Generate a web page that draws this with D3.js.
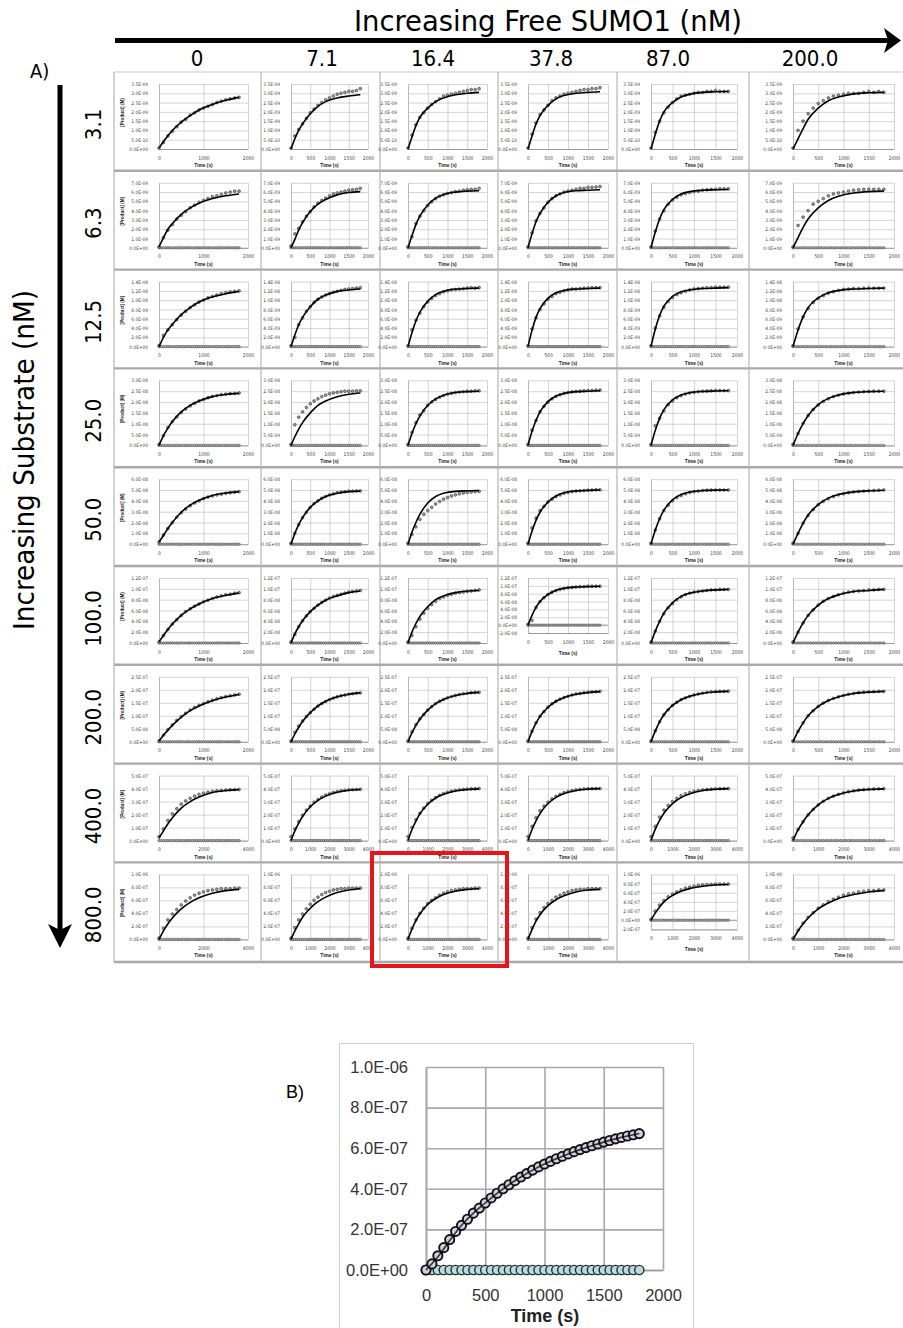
<!DOCTYPE html>
<html><head><meta charset="utf-8">
<script src="https://cdn.jsdelivr.net/npm/d3@7"></script>
<style>body{margin:0;background:#fff}svg{display:block}</style>
</head><body><svg id="c" width="903" height="1328"></svg>
<script>
// ---------------- DATA ----------------
const colLabels = ["0","7.1","16.4","37.8","87.0","200.0"];          // Free SUMO1 (nM)
const rowLabels = ["3.1","6.3","12.5","25.0","50.0","100.0","200.0","400.0","800.0"]; // Substrate (nM)
const rowUnits  = [1e-9,1e-9,1e-8,1e-8,1e-8,1e-7,1e-7,1e-7,1e-6];
const rowYMax   = [3.5,7,1.4,3,6,1.2,2.5,5,1];
const rowYStep  = [0.5,1,0.2,0.5,1,0.2,0.5,1,0.2];
const rowXMax   = [2000,2000,2000,2000,2000,2000,2000,4000,4000];
const rowHasControl = [false,true,true,true,true,true,true,true,true];
const panelYMin = [
 [0,0,0,0,0,0],[0,0,0,0,0,0],[0,0,0,0,0,0],[0,0,0,0,0,0],[0,0,0,0,0,0],
 [0,0,0,-0.2,0,0],[0,0,0,0,0,0],[0,0,0,0,0,0],[0,0,0,0,-0.2,0]
];
const dataTimesShort = [0,100,200,300,400,500,600,700,800,900,1000,1100,1200,1300,1400,1500,1600,1700,1800];
const dataTimesLong  = [0,200,400,600,800,1000,1200,1400,1600,1800,2000,2200,2400,2600,2800,3000,3200,3400,3600];
const fitTimesShort  = [0,100,200,300,500,700,900,1200,1500,1800];
const fitTimesLong   = [0,200,400,600,1000,1400,1800,2400,3000,3600];
const controlTimesShort = [0,50,100,150,200,250,300,350,400,450,500,550,600,650,700,750,800,850,900,950,1000,1050,1100,1150,1200,1250,1300,1350,1400,1450,1500,1550,1600,1650,1700,1750,1800];
const controlTimesLong  = [0,100,200,300,400,500,600,700,800,900,1000,1100,1200,1300,1400,1500,1600,1700,1800,1900,2000,2100,2200,2300,2400,2500,2600,2700,2800,2900,3000,3100,3200,3300,3400,3500,3600];
const controlValues = [0,0,0,0,0,0,0,0,0,0,0,0,0,0,0,0,0,0,0,0,0,0,0,0,0,0,0,0,0,0,0,0,0,0,0,0,0];

const pointsRow1 = [
 [0.05,0.35,0.7,0.95,1.2,1.45,1.6,1.82,1.95,2.1,2.2,2.3,2.4,2.5,2.58,2.65,2.7,2.75,2.78],
 [0.05,0.7,1.05,1.35,1.65,1.95,2.15,2.35,2.5,2.65,2.75,2.85,2.95,3.0,3.05,3.1,3.1,3.15,3.25],
 [0.05,0.75,1.3,1.7,1.95,2.2,2.4,2.55,2.7,2.85,2.9,2.95,3.0,3.05,3.1,3.15,3.2,3.2,3.25],
 [0.05,0.8,1.4,1.85,2.1,2.35,2.6,2.75,2.85,2.95,3.0,3.05,3.1,3.15,3.2,3.2,3.25,3.25,3.3],
 [0.05,0.9,1.5,1.95,2.25,2.5,2.7,2.85,2.9,2.95,3.0,3.05,3.05,3.1,3.1,3.15,3.1,3.1,3.1],
 [0.05,1.0,1.5,1.9,2.2,2.45,2.6,2.75,2.85,2.9,2.95,3.0,3.0,3.0,3.05,3.1,3.05,3.1,3.05]
];
const fitRow1 = [
 [0.05,0.4,0.72,1.0,1.45,1.8,2.1,2.4,2.62,2.78],
 [0,0.55,1.0,1.35,1.9,2.3,2.55,2.75,2.85,2.92],
 [0,0.65,1.25,1.7,2.2,2.55,2.75,2.92,3.0,3.05],
 [0,0.7,1.35,1.8,2.35,2.7,2.88,3.0,3.05,3.08],
 [0,0.8,1.5,2.0,2.5,2.8,2.95,3.05,3.08,3.1],
 [0,0.55,1.1,1.6,2.2,2.6,2.8,2.97,3.03,3.05]
];
const pointsRow2 = [
 [0.1,1.1,1.9,2.5,3.1,3.5,3.9,4.3,4.6,4.9,5.1,5.3,5.5,5.6,5.75,5.9,6.0,6.1,6.1],
 [0.2,1.5,2.1,2.8,3.4,3.9,4.4,4.8,5.1,5.35,5.6,5.8,5.9,6.0,6.1,6.2,6.25,6.3,6.4],
 [0.1,1.2,2.6,3.4,4.0,4.55,4.95,5.3,5.55,5.7,5.85,5.95,6.05,6.1,6.2,6.25,6.3,6.3,6.4],
 [0.1,1.6,2.9,3.7,4.3,4.9,5.3,5.6,5.8,6.0,6.1,6.2,6.3,6.4,6.4,6.5,6.5,6.55,6.6],
 [0.1,1.8,3.1,4.0,4.7,5.15,5.45,5.7,5.85,5.95,6.05,6.1,6.2,6.25,6.3,6.3,6.35,6.35,6.35],
 [0.1,2.4,3.3,4.0,4.7,5.0,5.3,5.6,5.8,5.9,6.0,6.1,6.2,6.25,6.3,6.3,6.3,6.3,6.3]
];
const fitRow2 = [
 [0.1,1.1,2.0,2.6,3.6,4.3,4.8,5.3,5.6,5.8],
 [0,0.9,1.9,2.7,3.9,4.7,5.2,5.7,5.95,6.05],
 [0,1.3,2.5,3.4,4.6,5.35,5.75,6.0,6.1,6.15],
 [0,1.5,2.8,3.7,4.9,5.6,5.95,6.15,6.2,6.25],
 [0,1.7,3.1,4.1,5.2,5.8,6.05,6.2,6.25,6.28],
 [0,1.1,2.2,3.1,4.3,5.1,5.55,5.9,6.05,6.1]
];
const pointsRow3 = [
 [0.02,0.24,0.36,0.47,0.58,0.68,0.76,0.84,0.9,0.96,1.0,1.05,1.08,1.11,1.14,1.16,1.18,1.19,1.2],
 [0.02,0.2,0.47,0.62,0.76,0.86,0.95,1.02,1.07,1.11,1.14,1.17,1.19,1.21,1.23,1.24,1.25,1.26,1.27],
 [0.02,0.36,0.57,0.72,0.86,0.96,1.04,1.1,1.14,1.18,1.2,1.22,1.23,1.24,1.25,1.26,1.27,1.26,1.27],
 [0.02,0.38,0.62,0.8,0.92,1.02,1.08,1.14,1.17,1.2,1.22,1.24,1.24,1.25,1.26,1.26,1.27,1.27,1.27],
 [0.02,0.4,0.66,0.85,0.97,1.06,1.12,1.16,1.19,1.22,1.24,1.25,1.26,1.27,1.27,1.28,1.28,1.28,1.28],
 [0.02,0.38,0.64,0.82,0.95,1.04,1.1,1.15,1.18,1.21,1.23,1.24,1.25,1.25,1.26,1.26,1.26,1.26,1.26]
];
const fitRow3 = [
 [0,0.2,0.36,0.48,0.69,0.84,0.96,1.07,1.14,1.19],
 [0,0.25,0.47,0.63,0.86,1.02,1.11,1.19,1.22,1.24],
 [0,0.3,0.55,0.74,0.98,1.12,1.19,1.24,1.25,1.26],
 [0,0.35,0.63,0.82,1.04,1.16,1.21,1.24,1.25,1.26],
 [0,0.38,0.67,0.87,1.08,1.18,1.22,1.25,1.26,1.27],
 [0,0.36,0.64,0.84,1.05,1.16,1.21,1.24,1.25,1.26]
];
const pointsRow4 = [
 [0.05,0.45,0.82,1.1,1.32,1.52,1.68,1.82,1.94,2.05,2.12,2.2,2.26,2.3,2.34,2.37,2.39,2.4,2.42],
 [0.05,0.95,1.3,1.55,1.75,1.92,2.05,2.15,2.25,2.32,2.38,2.42,2.45,2.48,2.5,2.5,2.5,2.52,2.52],
 [0.05,0.6,1.05,1.4,1.6,1.85,2.0,2.12,2.22,2.3,2.36,2.4,2.44,2.46,2.48,2.5,2.5,2.52,2.52],
 [0.05,0.7,1.15,1.55,1.8,2.0,2.15,2.26,2.34,2.4,2.44,2.47,2.49,2.5,2.52,2.53,2.53,2.55,2.55],
 [0.05,0.9,1.25,1.6,1.88,2.05,2.2,2.3,2.37,2.42,2.45,2.48,2.5,2.51,2.52,2.53,2.53,2.53,2.53],
 [0.05,0.55,1.02,1.38,1.65,1.87,2.03,2.15,2.25,2.32,2.37,2.41,2.44,2.46,2.48,2.49,2.5,2.5,2.5]
];
const fitRow4 = [
 [0,0.45,0.8,1.1,1.55,1.85,2.05,2.25,2.35,2.4],
 [0,0.4,0.75,1.05,1.5,1.85,2.05,2.25,2.36,2.42],
 [0,0.55,1.0,1.35,1.85,2.15,2.32,2.44,2.48,2.5],
 [0,0.65,1.15,1.55,2.02,2.28,2.4,2.48,2.5,2.52],
 [0,0.7,1.25,1.65,2.1,2.33,2.43,2.49,2.51,2.52],
 [0,0.55,1.0,1.38,1.88,2.17,2.33,2.44,2.48,2.5]
];
const pointsRow5 = [
 [0.2,0.85,1.45,2.0,2.5,2.9,3.25,3.55,3.8,4.0,4.2,4.35,4.45,4.55,4.62,4.7,4.75,4.8,4.85],
 [0.1,1.0,1.8,2.45,2.95,3.4,3.75,4.0,4.25,4.4,4.55,4.65,4.75,4.8,4.85,4.9,4.9,4.92,4.92],
 [0.1,0.9,1.6,2.3,2.75,3.1,3.4,3.7,3.95,4.15,4.3,4.45,4.55,4.65,4.72,4.78,4.82,4.85,4.88],
 [0.1,1.5,2.4,3.1,3.5,3.9,4.15,4.4,4.55,4.7,4.78,4.85,4.9,4.93,4.95,4.98,5.0,5.02,5.02],
 [0.1,1.3,2.35,3.1,3.6,4.0,4.3,4.5,4.65,4.78,4.85,4.9,4.95,4.98,5.0,5.0,5.0,5.0,5.0],
 [0.1,1.0,1.95,2.65,3.2,3.65,3.95,4.2,4.4,4.55,4.65,4.75,4.82,4.87,4.9,4.93,4.96,4.98,5.0]
];
const fitRow5 = [
 [0.2,0.8,1.45,2.0,2.95,3.6,4.05,4.5,4.72,4.85],
 [0,1.0,1.8,2.45,3.4,4.0,4.4,4.7,4.85,4.9],
 [0,1.1,2.0,2.75,3.8,4.4,4.7,4.88,4.93,4.95],
 [0,1.2,2.2,2.95,3.9,4.45,4.75,4.92,4.97,5.0],
 [0,1.3,2.35,3.15,4.1,4.58,4.82,4.95,4.99,5.0],
 [0,1.0,1.95,2.7,3.65,4.25,4.58,4.82,4.93,4.98]
];
const pointsRow6 = [
 [0.02,0.14,0.25,0.35,0.43,0.51,0.58,0.63,0.68,0.72,0.76,0.79,0.82,0.85,0.87,0.89,0.9,0.92,0.93],
 [0.02,0.16,0.3,0.41,0.5,0.58,0.64,0.7,0.75,0.79,0.83,0.86,0.88,0.9,0.92,0.94,0.95,0.96,0.97],
 [0.02,0.14,0.3,0.44,0.55,0.64,0.71,0.77,0.82,0.85,0.88,0.9,0.92,0.93,0.94,0.95,0.96,0.97,0.98],
 [0.02,0.12,0.45,0.6,0.7,0.78,0.84,0.88,0.91,0.93,0.95,0.96,0.97,0.98,0.98,0.99,0.99,0.99,0.99],
 [0.02,0.22,0.4,0.54,0.65,0.73,0.8,0.85,0.89,0.92,0.94,0.95,0.96,0.97,0.98,0.98,0.99,0.99,0.99],
 [0.02,0.2,0.37,0.51,0.61,0.7,0.77,0.82,0.86,0.89,0.92,0.94,0.95,0.96,0.97,0.98,0.98,0.99,0.99]
];
const fitRow6 = [
 [0.02,0.14,0.25,0.35,0.51,0.63,0.72,0.82,0.88,0.92],
 [0,0.17,0.3,0.41,0.58,0.7,0.79,0.87,0.93,0.96],
 [0,0.2,0.36,0.49,0.67,0.8,0.87,0.93,0.96,0.97],
 [0,0.25,0.45,0.6,0.78,0.89,0.94,0.97,0.98,0.99],
 [0,0.22,0.4,0.55,0.74,0.86,0.92,0.96,0.98,0.99],
 [0,0.2,0.37,0.51,0.7,0.82,0.89,0.95,0.97,0.99]
];
const pointsRow7 = [
 [0.03,0.26,0.47,0.65,0.82,0.97,1.1,1.22,1.32,1.4,1.47,1.54,1.6,1.65,1.7,1.74,1.77,1.8,1.83],
 [0.03,0.36,0.6,0.8,0.97,1.12,1.25,1.37,1.47,1.55,1.62,1.68,1.73,1.77,1.8,1.83,1.85,1.87,1.88],
 [0.03,0.38,0.66,0.88,1.05,1.22,1.35,1.47,1.56,1.63,1.69,1.74,1.78,1.82,1.85,1.87,1.89,1.9,1.9],
 [0.03,0.4,0.73,0.98,1.16,1.33,1.46,1.56,1.64,1.7,1.75,1.8,1.84,1.86,1.89,1.91,1.92,1.93,1.94],
 [0.03,0.42,0.77,1.04,1.23,1.4,1.52,1.62,1.69,1.75,1.8,1.84,1.87,1.9,1.92,1.93,1.94,1.94,1.95],
 [0.03,0.4,0.73,1.0,1.19,1.36,1.49,1.59,1.67,1.73,1.78,1.83,1.86,1.89,1.91,1.92,1.93,1.94,1.94]
];
const fitRow7 = [
 [0.03,0.25,0.45,0.63,0.95,1.2,1.38,1.58,1.72,1.82],
 [0,0.3,0.56,0.78,1.12,1.38,1.56,1.73,1.83,1.88],
 [0,0.34,0.63,0.87,1.22,1.47,1.63,1.78,1.86,1.9],
 [0,0.4,0.72,0.98,1.33,1.56,1.7,1.83,1.89,1.93],
 [0,0.42,0.77,1.04,1.4,1.62,1.75,1.87,1.92,1.94],
 [0,0.4,0.73,1.0,1.36,1.59,1.73,1.86,1.91,1.94]
];
const pointsRow8 = [
 [0.3,0.9,1.55,2.05,2.45,2.8,3.05,3.25,3.42,3.55,3.65,3.72,3.78,3.83,3.86,3.89,3.91,3.92,3.93],
 [0.3,0.9,1.45,1.95,2.35,2.65,2.95,3.15,3.35,3.5,3.6,3.7,3.77,3.83,3.87,3.9,3.92,3.94,3.95],
 [0.3,1.0,1.6,2.1,2.5,2.85,3.1,3.3,3.48,3.62,3.72,3.8,3.86,3.9,3.93,3.96,3.98,3.99,4.0],
 [0.3,1.1,1.75,2.3,2.65,2.95,3.2,3.4,3.56,3.68,3.77,3.84,3.9,3.94,3.97,3.99,4.0,4.0,4.0],
 [0.3,1.1,1.8,2.35,2.7,3.0,3.25,3.45,3.6,3.7,3.78,3.85,3.9,3.93,3.96,3.98,3.99,4.0,4.0],
 [0.2,0.85,1.45,1.98,2.4,2.75,3.02,3.25,3.42,3.56,3.67,3.76,3.83,3.88,3.92,3.95,3.97,3.98,3.99]
];
const fitRow8 = [
 [0.2,0.75,1.3,1.75,2.5,3.0,3.35,3.7,3.85,3.92],
 [0,0.75,1.35,1.85,2.6,3.1,3.42,3.72,3.87,3.93],
 [0,0.85,1.5,2.05,2.8,3.28,3.56,3.82,3.93,3.98],
 [0,0.85,1.52,2.08,2.85,3.33,3.62,3.86,3.96,4.0],
 [0,0.88,1.55,2.1,2.85,3.32,3.6,3.85,3.95,4.0],
 [0,0.82,1.45,1.98,2.75,3.25,3.55,3.82,3.93,3.98]
];
const pointsRow9 = [
 [0.02,0.17,0.3,0.39,0.46,0.53,0.59,0.64,0.68,0.71,0.73,0.75,0.76,0.77,0.78,0.78,0.78,0.79,0.79],
 [0.02,0.18,0.3,0.39,0.47,0.54,0.6,0.65,0.69,0.72,0.74,0.76,0.77,0.78,0.78,0.79,0.79,0.79,0.79],
 [0.02,0.17,0.3,0.4,0.48,0.55,0.6,0.64,0.68,0.71,0.73,0.75,0.76,0.77,0.78,0.78,0.78,0.79,0.79],
 [0.02,0.18,0.31,0.41,0.49,0.55,0.6,0.65,0.68,0.71,0.73,0.75,0.76,0.77,0.77,0.78,0.78,0.78,0.78],
 [0.02,0.2,0.33,0.43,0.51,0.57,0.62,0.66,0.7,0.72,0.74,0.76,0.77,0.78,0.78,0.79,0.79,0.79,0.79],
 [0.02,0.14,0.25,0.34,0.41,0.48,0.53,0.58,0.62,0.65,0.68,0.7,0.71,0.73,0.74,0.75,0.75,0.76,0.76]
];
const fitRow9 = [
 [0,0.13,0.24,0.33,0.47,0.57,0.64,0.71,0.75,0.77],
 [0,0.13,0.24,0.34,0.48,0.58,0.65,0.72,0.76,0.78],
 [0,0.16,0.29,0.39,0.54,0.63,0.69,0.74,0.77,0.78],
 [0,0.15,0.28,0.38,0.52,0.61,0.67,0.73,0.76,0.77],
 [0,0.16,0.29,0.4,0.54,0.63,0.69,0.74,0.77,0.78],
 [0,0.13,0.24,0.33,0.47,0.56,0.63,0.69,0.73,0.75]
];
const pointsByRow = [pointsRow1,pointsRow2,pointsRow3,pointsRow4,pointsRow5,pointsRow6,pointsRow7,pointsRow8,pointsRow9];
const fitByRow = [fitRow1,fitRow2,fitRow3,fitRow4,fitRow5,fitRow6,fitRow7,fitRow8,fitRow9];

// Panel B (highlighted panel enlarged), values in units of 1e-7 M
const panelBTimes = [0,50,100,150,200,250,300,350,400,450,500,550,600,650,700,750,800,850,900,950,1000,1050,1100,1150,1200,1250,1300,1350,1400,1450,1500,1550,1600,1650,1700,1750,1800];
const panelBProduct = [0,0.3,0.7,1.1,1.5,1.9,2.2,2.5,2.8,3.05,3.3,3.55,3.78,4.0,4.2,4.4,4.58,4.75,4.92,5.08,5.22,5.35,5.48,5.6,5.72,5.83,5.93,6.03,6.12,6.21,6.3,6.38,6.46,6.53,6.6,6.66,6.72];
const panelBControl = [0,0,0,0,0,0,0,0,0,0,0,0,0,0,0,0,0,0,0,0,0,0,0,0,0,0,0,0,0,0,0,0,0,0,0,0,0];
const panelBFitTimes = [0,100,200,300,400,500,600,700,800,900,1000,1100,1200,1300,1400,1500,1600,1700,1800];
const panelBFit = [0,0.65,1.45,2.2,2.8,3.3,3.78,4.2,4.58,4.92,5.22,5.48,5.72,5.93,6.12,6.3,6.46,6.6,6.72];
const panelBYTicks = [0,2e-7,4e-7,6e-7,8e-7,1e-6];
const panelBXTicks = [0,500,1000,1500,2000];

// ---------------- LAYOUT ----------------
const svg = d3.select("#c");
const SANS = "'Liberation Sans', Arial, sans-serif";
const NARROW = "'Liberation Sans Narrow','Arial Narrow','DejaVu Sans Condensed',sans-serif";
const colEdges = [114, 261, 380, 498, 617, 749, 903];
const plotXRange = [[159,248],[291,368],[408,487],[528,608],[651,737],[793,894]];
const colLabelX = [197,322,433,551,668,810];
const gridTop = 72, rowH = 98.8, gridBottom = 962;
const rowTop = r => gridTop + r * rowH;
const xFmt = d => String(d);

function fmtE(v) {
  if (Math.abs(v) < 1e-30) return "0.0E+00";
  let e = Math.floor(Math.log10(Math.abs(v)) + 1e-9);
  let ms = (v / Math.pow(10, e)).toFixed(1);
  if (Math.abs(parseFloat(ms)) >= 10) { e += 1; ms = (v / Math.pow(10, e)).toFixed(1); }
  return ms + "E" + (e < 0 ? "-" : "+") + String(Math.abs(e)).padStart(2, "0");
}

// ---- headers ----
svg.append("text").attr("x", 548).attr("y", 31).attr("text-anchor", "middle")
  .attr("font-family", NARROW).attr("font-size", 29).attr("fill", "#000")
  .attr("textLength", 388).attr("lengthAdjust", "spacingAndGlyphs")
  .text("Increasing Free SUMO1 (nM)");
svg.append("line").attr("x1", 115).attr("x2", 890).attr("y1", 40.5).attr("y2", 40.5)
  .attr("stroke", "#000").attr("stroke-width", 5);
svg.append("path").attr("d", "M884,28 L901,40.5 L884,53 L888,40.5 Z").attr("fill", "#000");

colLabels.forEach((lab, c) => {
  svg.append("text").attr("x", colLabelX[c]).attr("y", 66).attr("text-anchor", "middle")
    .attr("font-family", NARROW).attr("font-size", 22).text(lab);
});
svg.append("text").attr("x", 30).attr("y", 78).attr("font-family", NARROW).attr("font-size", 20).text("A)");

svg.append("line").attr("x1", 60).attr("x2", 60).attr("y1", 85).attr("y2", 932)
  .attr("stroke", "#000").attr("stroke-width", 5);
svg.append("path").attr("d", "M48,924 L60,948 L72,924 L60,930 Z").attr("fill", "#000");
svg.append("text").attr("transform", "translate(34,460) rotate(-90)").attr("text-anchor", "middle")
  .attr("font-family", NARROW).attr("font-size", 29)
  .attr("textLength", 340).attr("lengthAdjust", "spacingAndGlyphs")
  .text("Increasing Substrate (nM)");
rowLabels.forEach((lab, r) => {
  svg.append("text").attr("transform", `translate(101,${rowTop(r) + rowH / 2 + 3}) rotate(-90)`)
    .attr("text-anchor", "middle").attr("font-family", NARROW).attr("font-size", 22).text(lab);
});

// ---- grid frame ----
const frame = svg.append("g");
d3.range(0, 10).forEach(i => {
  const yy = i === 9 ? gridBottom : rowTop(i);
  frame.append("line").attr("x1", colEdges[0]).attr("x2", 903).attr("y1", yy).attr("y2", yy)
    .attr("stroke", i === 0 ? "#c8c8c8" : "#a9a9a9").attr("stroke-width", i === 0 ? 1.2 : 2.4);
});
colEdges.slice(0, 6).forEach(xx => {
  frame.append("line").attr("x1", xx).attr("x2", xx).attr("y1", gridTop).attr("y2", gridBottom)
    .attr("stroke", "#b5b5b5").attr("stroke-width", 1.2);
});

// ---- small panels ----
const fitLine = (x, y) => d3.line().x(d => x(d[0])).y(d => y(d[1])).curve(d3.curveMonotoneX);

rowLabels.forEach((rl, r) => {
  const long = rowXMax[r] > 2000;
  const dT = long ? dataTimesLong : dataTimesShort;
  const fT = long ? fitTimesLong : fitTimesShort;
  const cT = long ? controlTimesLong : controlTimesShort;
  colLabels.forEach((cl, c) => {
    const top = rowTop(r);
    const ymin = panelYMin[r][c];
    const neg = ymin < 0;
    const yTop = top + 12, yBot = neg ? top + 67 : top + 77;
    const [px0, px1] = plotXRange[c];
    const x = d3.scaleLinear().domain([0, rowXMax[r]]).range([px0, px1]);
    const y = d3.scaleLinear().domain([ymin, rowYMax[r]]).range([yBot, yTop]);
    const unit = rowUnits[r];
    const nT = Math.round((rowYMax[r] - ymin) / rowYStep[r]);
    const yt = d3.range(0, nT + 1).map(i => +(ymin + i * rowYStep[r]).toFixed(6));
    const xStep = c === 0 ? (long ? 2000 : 1000) : (long ? 1000 : 500);
    const xt = d3.range(0, rowXMax[r] + 1, xStep);
    const g = svg.append("g");

    const ga = g.append("g").attr("transform", `translate(${px0},0)`)
      .call(d3.axisLeft(y).tickValues(yt).tickFormat(v => fmtE(v * unit))
        .tickSize(-(px1 - px0)).tickSizeOuter(0).tickPadding(11));
    ga.select(".domain").attr("stroke", "#8a8a8a").attr("stroke-width", 0.8);
    ga.selectAll(".tick line").attr("stroke", "#c2c2c2").attr("stroke-width", 0.7);
    ga.selectAll(".tick text").attr("font-family", NARROW).attr("font-size", 4.8).attr("fill", "#444");

    const gb = g.append("g").attr("transform", `translate(0,${yBot})`)
      .call(d3.axisBottom(x).tickValues(xt).tickFormat(xFmt).tickSize(-(yBot - yTop)).tickSizeOuter(0).tickPadding(7));
    gb.select(".domain").attr("stroke", "#8a8a8a").attr("stroke-width", 0.8);
    gb.selectAll(".tick line").attr("stroke", "#c2c2c2").attr("stroke-width", 0.7);
    gb.selectAll(".tick text").attr("font-family", NARROW).attr("font-size", 5).attr("fill", "#444");
    if (neg) {
      g.append("line").attr("x1", px0).attr("x2", px1).attr("y1", y(0)).attr("y2", y(0))
        .attr("stroke", "#8a8a8a").attr("stroke-width", 0.8);
    }

    g.append("text").attr("x", (px0 + px1) / 2).attr("y", top + (neg ? 89 : 95))
      .attr("text-anchor", "middle").attr("font-family", SANS).attr("font-weight", "bold")
      .attr("font-size", 4.8).attr("fill", "#222").text("Time (s)");
    if (c === 0) {
      g.append("text").attr("transform", `translate(124,${(yTop + yBot) / 2 - 4}) rotate(-90)`)
        .attr("text-anchor", "middle").attr("font-family", SANS).attr("font-weight", "bold")
        .attr("font-size", 4.6).attr("fill", "#222").text("[Product] (M)");
    }

    if (rowHasControl[r]) {
      g.append("g").selectAll("circle").data(d3.zip(cT, controlValues)).join("circle")
        .attr("cx", d => x(d[0])).attr("cy", d => y(d[1])).attr("r", 1.25)
        .attr("fill", "#aaa").attr("stroke", "#444").attr("stroke-width", 0.5);
    }
    const pts = d3.zip(dT, pointsByRow[r][c]);
    g.append("g").selectAll("circle").data(pts).join("circle")
      .attr("cx", d => x(d[0])).attr("cy", d => y(d[1])).attr("r", 1.4)
      .attr("fill", "#9a9a9a").attr("stroke", "#333").attr("stroke-width", 0.6);
    g.append("path").datum(d3.zip(fT, fitByRow[r][c])).attr("d", fitLine(x, y))
      .attr("fill", "none").attr("stroke", "#000").attr("stroke-width", 1.6);
  });
});

// red highlight box
svg.append("rect").attr("x", 372).attr("y", 853).attr("width", 135).attr("height", 113)
  .attr("fill", "none").attr("stroke", "#e8141b").attr("stroke-width", 4);

// ---- Panel B ----
svg.append("text").attr("x", 286).attr("y", 1098).attr("font-family", SANS).attr("font-size", 18).text("B)");
svg.append("rect").attr("x", 339.5).attr("y", 1043.5).attr("width", 354).attr("height", 300)
  .attr("fill", "none").attr("stroke", "#cfcfcf").attr("stroke-width", 1);
{
  const bx = d3.scaleLinear().domain([0, 2000]).range([426, 663]);
  const by = d3.scaleLinear().domain([0, 1e-6]).range([1270, 1067]);
  const g = svg.append("g");
  const ga = g.append("g").attr("transform", "translate(426,0)")
    .call(d3.axisLeft(by).tickValues(panelBYTicks).tickFormat(fmtE).tickSize(-(663 - 426)).tickSizeOuter(0).tickPadding(18));
  ga.select(".domain").attr("stroke", "#9a9a9a").attr("stroke-width", 1.6);
  ga.selectAll(".tick line").attr("stroke", "#a8a8a8").attr("stroke-width", 1.6);
  ga.selectAll(".tick text").attr("font-family", SANS).attr("font-size", 16.5).attr("fill", "#333");
  const gb = g.append("g").attr("transform", "translate(0,1270)")
    .call(d3.axisBottom(bx).tickValues(panelBXTicks).tickFormat(xFmt).tickSize(-(1270 - 1067)).tickSizeOuter(0).tickPadding(19));
  gb.select(".domain").attr("stroke", "#9a9a9a").attr("stroke-width", 1.6);
  gb.selectAll(".tick line").attr("stroke", "#a8a8a8").attr("stroke-width", 1.6);
  gb.selectAll(".tick text").attr("font-family", SANS).attr("font-size", 16.5).attr("fill", "#333");
  g.append("text").attr("x", 545).attr("y", 1322).attr("text-anchor", "middle")
    .attr("font-family", SANS).attr("font-weight", "bold").attr("font-size", 18).attr("fill", "#222").text("Time (s)");

  g.append("path").datum(d3.zip(panelBFitTimes, panelBFit.map(v => v * 1e-7)))
    .attr("d", d3.line().x(d => bx(d[0])).y(d => by(d[1])).curve(d3.curveMonotoneX))
    .attr("fill", "none").attr("stroke", "#000").attr("stroke-width", 3.5);
  g.append("g").selectAll("circle").data(d3.zip(panelBTimes, panelBControl)).join("circle")
    .attr("cx", d => bx(d[0])).attr("cy", d => by(d[1])).attr("r", 4.6)
    .attr("fill", "#b7dcdf").attr("stroke", "#2a2a2a").attr("stroke-width", 1.4);
  g.append("g").selectAll("circle").data(d3.zip(panelBTimes, panelBProduct.map(v => v * 1e-7))).join("circle")
    .attr("cx", d => bx(d[0])).attr("cy", d => by(d[1])).attr("r", 4.6)
    .attr("fill", "#d6cde2").attr("stroke", "#111").attr("stroke-width", 1.9);
  g.append("path").datum(d3.zip(panelBFitTimes, panelBFit.map(v => v * 1e-7)))
    .attr("d", d3.line().x(d => bx(d[0])).y(d => by(d[1])).curve(d3.curveMonotoneX))
    .attr("fill", "none").attr("stroke", "#000").attr("stroke-width", 1.6).attr("opacity", 0.75);
}
</script></body></html>
